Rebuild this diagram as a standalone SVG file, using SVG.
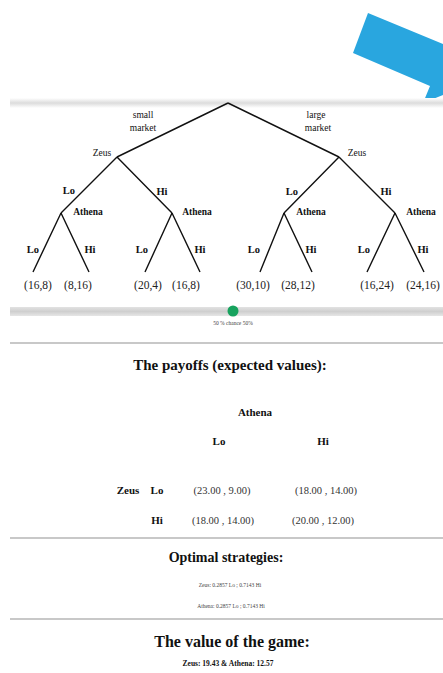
<svg xmlns="http://www.w3.org/2000/svg" width="443" height="673" viewBox="0 0 443 673">
<defs>
<linearGradient id="band" x1="0" y1="0" x2="0" y2="1">
<stop offset="0" stop-color="#ffffff"/>
<stop offset="0.5" stop-color="#dcdcdc"/>
<stop offset="1" stop-color="#ffffff"/>
</linearGradient>
<linearGradient id="slider" x1="0" y1="0" x2="0" y2="1">
<stop offset="0" stop-color="#e2e2e2"/>
<stop offset="0.5" stop-color="#cfcfcf"/>
<stop offset="1" stop-color="#e6e6e6"/>
</linearGradient>
</defs>
<style>
text{font-family:"Liberation Serif","Times New Roman",serif;fill:#111}
.lbl{font-size:10.5px;font-weight:bold}
.sm{font-size:9.5px}
.pay{font-size:11.5px;fill:#222}
.b{font-weight:bold}
.h{font-size:15px;font-weight:bold;text-anchor:middle}
.c{text-anchor:middle}
.edge{stroke:#111;stroke-width:1.4;fill:none}
.rule{stroke:#c8c8c8;stroke-width:2}
.tiny{font-size:5.5px;fill:#444;text-anchor:middle}
.cell{font-size:10.5px;fill:#333;text-anchor:middle}
</style>
<rect width="443" height="673" fill="#ffffff"/>
<g id="arrow">
<polygon points="368,13 443,44 443,95 423,103 430,86 353,53" fill="#29a6df"/>
</g>
<rect x="10" y="98" width="433" height="10" fill="url(#band)"/>
<g id="connectors">
<path class="edge" d="M228,103 L117,157 M228,103 L339,157"/>
<path class="edge" d="M117,157 L61,213 M117,157 L172,213"/>
<path class="edge" d="M339,157 L284,213 M339,157 L395,213"/>
<path class="edge" d="M61,213 L33,272 M61,213 L89,272"/>
<path class="edge" d="M172,213 L145,272 M172,213 L200,272"/>
<path class="edge" d="M284,213 L260,272 M284,213 L312,272"/>
<path class="edge" d="M395,213 L367,272 M395,213 L424,272"/>
</g>
<g id="root-labels">
<text class="sm c" x="143" y="118">small</text>
<text class="sm c" x="143" y="131">market</text>
<text class="sm c" x="316" y="118">large</text>
<text class="sm c" x="318" y="131">market</text>
</g>
<g id="zeus-left"><text class="sm c" x="102" y="156">Zeus</text></g>
<g id="zeus-right"><text class="sm c" x="357" y="156">Zeus</text></g>
<g id="zeus-moves">
<text class="lbl c" x="69" y="194">Lo</text>
<text class="lbl c" x="162" y="195">Hi</text>
<text class="lbl c" x="292" y="195">Lo</text>
<text class="lbl c" x="386" y="195">Hi</text>
</g>
<g id="athena-1"><text class="sm c b" x="88" y="215">Athena</text></g>
<g id="athena-2"><text class="sm c b" x="197" y="215">Athena</text></g>
<g id="athena-3"><text class="sm c b" x="311" y="215">Athena</text></g>
<g id="athena-4"><text class="sm c b" x="421" y="215">Athena</text></g>
<g id="athena-moves">
<text class="lbl c" x="33" y="253">Lo</text>
<text class="lbl c" x="90" y="253">Hi</text>
<text class="lbl c" x="142" y="253">Lo</text>
<text class="lbl c" x="200" y="253">Hi</text>
<text class="lbl c" x="254" y="253">Lo</text>
<text class="lbl c" x="311" y="253">Hi</text>
<text class="lbl c" x="364" y="253">Lo</text>
<text class="lbl c" x="423" y="253">Hi</text>
</g>
<g id="leaves">
<text class="pay c" x="38" y="289">(16,8)</text>
<text class="pay c" x="78" y="289">(8,16)</text>
<text class="pay c" x="148" y="289">(20,4)</text>
<text class="pay c" x="186" y="289">(16,8)</text>
<text class="pay c" x="253" y="289">(30,10)</text>
<text class="pay c" x="298" y="289">(28,12)</text>
<text class="pay c" x="377" y="289">(16,24)</text>
<text class="pay c" x="423" y="289">(24,16)</text>
</g>
<g id="slider">
<rect x="10" y="307" width="433" height="9" fill="url(#slider)"/>
<circle cx="233" cy="311" r="5.5" fill="#17a35e"/>
<text class="tiny" x="233" y="325">50 % chance 50%</text>
</g>
<line class="rule" x1="10" y1="343" x2="443" y2="343"/>
<g id="payoffs">
<text class="h" x="230" y="370">The payoffs (expected values):</text>
<text class="b c" style="font-size:11px" x="255" y="416">Athena</text>
<text class="b c" style="font-size:11px" x="219" y="445">Lo</text>
<text class="b c" style="font-size:11px" x="323" y="445">Hi</text>
<text class="b c" style="font-size:11px" x="128" y="494">Zeus</text>
<text class="b c" style="font-size:11px" x="157" y="494">Lo</text>
<text class="b c" style="font-size:11px" x="157" y="524">Hi</text>
<text class="cell" x="222" y="494">(23.00 , 9.00)</text>
<text class="cell" x="326" y="494">(18.00 , 14.00)</text>
<text class="cell" x="223" y="524">(18.00 , 14.00)</text>
<text class="cell" x="323" y="524">(20.00 , 12.00)</text>
</g>
<line class="rule" x1="10" y1="538" x2="443" y2="538"/>
<g id="strategies">
<text class="h" style="font-size:14px" x="226" y="562">Optimal strategies:</text>
<text class="tiny" x="230" y="587">Zeus: 0.2857 Lo ;   0.7143 Hi</text>
<text class="tiny" x="231" y="608">Athena: 0.2857 Lo ;   0.7143 Hi</text>
</g>
<line class="rule" x1="10" y1="619" x2="443" y2="619"/>
<g id="value">
<text class="h" style="font-size:16px" x="232" y="647">The value of the game:</text>
<text class="b c" style="font-size:7.5px" x="228" y="666">Zeus: 19.43  &amp;  Athena: 12.57</text>
</g>
</svg>
